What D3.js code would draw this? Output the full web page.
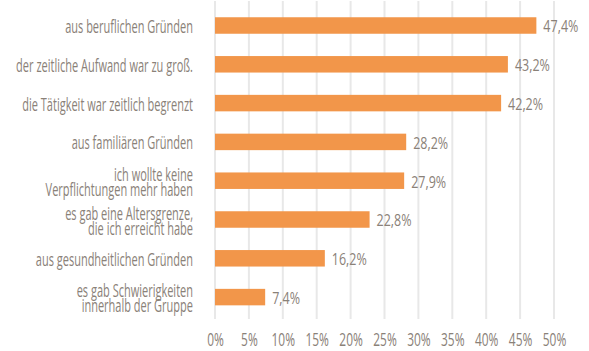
<!DOCTYPE html>
<html>
<head>
<meta charset="utf-8">
<script src="https://cdn.jsdelivr.net/npm/d3@7"></script>
<style>
  html, body { margin: 0; padding: 0; background: #fff; }
  svg { display: block; }
  text { font-family: "Open Sans", "DejaVu Sans", sans-serif; font-weight: 400; fill: #8a8178; }
</style>
</head>
<body>
<svg id="chart" width="589" height="351"></svg>
<script>
// Gründe für die Beendigung des Engagements (Anteile in %)
const categories = [
  ["aus beruflichen Gründen"],
  ["der zeitliche Aufwand war zu groß."],
  ["die Tätigkeit war zeitlich begrenzt"],
  ["aus familiären Gründen"],
  ["ich wollte keine", "Verpflichtungen mehr haben"],
  ["es gab eine Altersgrenze,", "die ich erreicht habe"],
  ["aus gesundheitlichen Gründen"],
  ["es gab Schwierigkeiten", "innerhalb der Gruppe"]
];
const values = [47.4, 43.2, 42.2, 28.2, 27.9, 22.8, 16.2, 7.4];
const valueLabels = ["47,4%", "43,2%", "42,2%", "28,2%", "27,9%", "22,8%", "16,2%", "7,4%"];
const tickValues = [0, 5, 10, 15, 20, 25, 30, 35, 40, 45, 50];
const tickLabels = ["0%", "5%", "10%", "15%", "20%", "25%", "30%", "35%", "40%", "45%", "50%"];

const svg = d3.select("#chart");
const x = d3.scaleLinear().domain([0, 50]).range([215, 554]);
const y = d3.scaleBand()
  .domain(d3.range(values.length))
  .range([6.1, 316.5])
  .paddingInner(0.575)
  .paddingOuter(0.2875);

// condensed look: squeeze text horizontally so a sample string hits a target width
function squeeze(size, sample, target) {
  const t = svg.append("text").attr("font-size", size).text(sample);
  const w = t.node().getComputedTextLength();
  t.remove();
  return target / w;
}
const fCat = squeeze(17.5, "der zeitliche Aufwand war zu groß.", 177);
const fVal = squeeze(17, "47,4%", 35);
const fTick = squeeze(17.5, "50%", 23.5);

// vertical gridlines
svg.append("g").selectAll("line")
  .data(tickValues)
  .join("line")
  .attr("x1", d => x(d)).attr("x2", d => x(d))
  .attr("y1", 1).attr("y2", 319)
  .attr("stroke", "#e8e8e8")
  .attr("stroke-width", 2);

// x axis tick labels
const xAxis = d3.axisBottom(x)
  .tickValues(tickValues)
  .tickSize(0)
  .tickPadding(0)
  .tickFormat((d, i) => tickLabels[i]);
const gx = svg.append("g").attr("transform", "translate(0,345.5)").call(xAxis);
gx.select(".domain").remove();
gx.selectAll("text")
  .attr("font-size", 17.5)
  .attr("font-family", null)
  .attr("fill", "#8a8178")
  .attr("dy", 0)
  .attr("y", 0)
  .attr("transform", `scale(${fTick},1)`);

// bars
svg.append("g").selectAll("rect")
  .data(values)
  .join("rect")
  .attr("x", x(0))
  .attr("y", (d, i) => y(i))
  .attr("width", d => x(d) - x(0))
  .attr("height", y.bandwidth())
  .attr("fill", "#f2964a");

// value labels
svg.append("g").selectAll("text")
  .data(values)
  .join("text")
  .attr("transform", (d, i) => `translate(${x(d) + 7},${y(i) + y.bandwidth() / 2 + 6.8}) scale(${fVal},1)`)
  .attr("font-size", 17)
  .text((d, i) => valueLabels[i]);

// category labels
const lab = svg.append("g").selectAll("text")
  .data(categories)
  .join("text")
  .attr("text-anchor", "end")
  .attr("font-size", 17.5)
  .attr("transform", (d, i) => `translate(193,${y(i) + y.bandwidth() / 2 + 7.5}) scale(${fCat},1)`);
lab.each(function(lines) {
  const t = d3.select(this);
  const lh = 15;
  const off = -(lines.length - 1) * lh / 2;
  lines.forEach((ln, k) => {
    t.append("tspan")
      .attr("x", 0)
      .attr("y", off + k * lh)
      .text(ln);
  });
});
</script>
</body>
</html>
